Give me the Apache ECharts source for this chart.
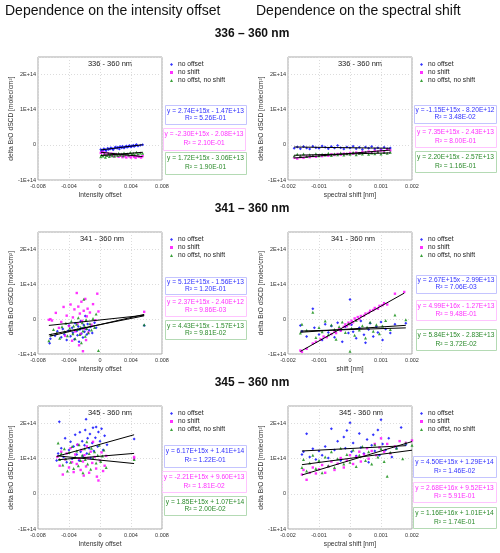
<!DOCTYPE html>
<html><head><meta charset="utf-8">
<script src="https://cdn.jsdelivr.net/npm/echarts@6/dist/echarts.min.js"></script>
<style>html,body{margin:0;padding:0;background:#fff}#c{width:500px;height:553px}</style>
</head><body><div id="c"></div>
<script>
// units used in the point arrays: x in 1e-3, y in 1e13 molec/cm2
const X_UNIT = 1e-3, Y_UNIT = 1e13;

const sectionTitles = ['Dependence on the intensity offset', 'Dependence on the spectral shift'];
const rangeHeadings = ['336 \u2013 360 nm', '341 \u2013 360 nm', '345 \u2013 360 nm'];
const panelTitles = ['336 - 360 nm', '336 - 360 nm', '341 - 360 nm', '341 - 360 nm', '345 - 360 nm', '345 - 360 nm'];
const xAxisNames = ['Intensity offset', 'spectral shift [nm]', 'Intensity offset', 'shift [nm]', 'Intensity offset', 'spectral shift [nm]'];
const yAxisName = 'delta BrO dSCD [molec/cm\u00b2]';
const seriesNames = ['no offset', 'no shift', 'no offst, no shift'];

// regression coefficients (slope, intercept, R2) per panel: [no offset, no shift, no offst no shift]
const slopes = [
  [2.74e15, -2.30e15, 1.72e15],
  [-1.15e15, 7.35e15, 2.20e15],
  [5.12e15, 2.37e15, 4.43e15],
  [2.67e15, 4.99e16, 5.84e15],
  [6.17e15, -2.21e15, 1.85e15],
  [4.50e15, 2.68e16, 1.16e16]
];
const intercepts = [
  [-1.47e13, -2.08e13, -3.06e13],
  [-8.20e12, -2.43e13, -2.57e13],
  [-1.56e13, -2.40e12, -1.57e13],
  [-2.99e13, -1.27e13, -2.83e13],
  [1.41e14, 9.60e13, 1.07e14],
  [1.29e14, 9.52e13, 1.01e14]
];
const rSquared = [
  [5.26e-1, 2.10e-1, 1.90e-1],
  [3.48e-2, 8.00e-1, 1.16e-1],
  [1.20e-1, 9.86e-3, 9.81e-2],
  [7.06e-3, 9.48e-1, 3.72e-2],
  [1.22e-1, 1.81e-2, 2.00e-2],
  [1.46e-2, 5.91e-1, 1.74e-1]
];

// ---- 336-360 nm, intensity offset
const int336_noOffset = [[0.1,-1.3],[0.2,-1.8],[0.4,-1.5],[0.5,-1.1],[0.7,-1.4],[0.8,-1.7],[1.0,-1.0],[1.1,-1.3],[1.3,-1.2],[1.4,-0.8],[1.6,-1.1],[1.7,-1.4],[1.9,-0.9],[2.0,-0.6],[2.2,-1.0],[2.3,-0.7],[2.5,-1.2],[2.6,-0.5],[2.8,-0.8],[2.9,-0.4],[3.1,-0.9],[3.2,-0.6],[3.4,-0.3],[3.5,-0.7],[3.7,-0.5],[3.8,-0.2],[4.0,-0.6],[4.1,-0.3],[4.3,-0.1],[4.4,-0.5],[4.6,-0.2],[4.7,0.1],[4.9,-0.3],[5.2,-0.1],[5.5,0.0]];
const int336_noShift = [[0.1,-2.3],[0.3,-2.0],[0.5,-2.6],[0.6,-2.2],[0.8,-2.9],[1.0,-2.4],[1.2,-2.7],[1.3,-3.1],[1.5,-2.5],[1.7,-2.9],[1.8,-3.3],[2.0,-2.6],[2.2,-3.0],[2.4,-3.4],[2.5,-2.7],[2.7,-3.1],[2.9,-3.5],[3.0,-2.8],[3.2,-3.2],[3.4,-3.6],[3.6,-2.9],[3.8,-3.3],[4.0,-3.6],[4.2,-3.0],[4.4,-3.4],[4.6,-3.7],[4.8,-3.1],[5.0,-3.4],[5.3,-3.6],[5.5,-3.2]];
const int336_none = [[0.1,-3.4],[0.2,-2.9],[0.4,-3.2],[0.6,-2.7],[0.7,-3.5],[0.9,-3.0],[1.1,-2.6],[1.2,-3.3],[1.4,-2.8],[1.6,-3.1],[1.8,-2.5],[1.9,-3.2],[2.1,-2.7],[2.3,-3.0],[2.4,-2.4],[2.6,-2.9],[2.8,-2.6],[3.0,-3.1],[3.1,-2.3],[3.3,-2.7],[3.5,-2.5],[3.7,-2.9],[3.9,-2.2],[4.1,-2.6],[4.3,-2.4],[4.5,-2.8],[4.7,-2.1],[4.9,-2.5],[5.2,-2.3],[5.5,-2.4]];
// ---- 336-360 nm, spectral shift
const sh336_noOffset = [[-1.8,-1.0],[-1.7,-0.6],[-1.6,-1.1],[-1.5,-0.5],[-1.4,-0.9],[-1.3,-1.2],[-1.2,-0.4],[-1.1,-0.8],[-1.0,-1.0],[-0.9,-0.3],[-0.8,-0.7],[-0.7,-1.1],[-0.6,-0.5],[-0.5,-0.9],[-0.4,-0.2],[-0.3,-0.8],[-0.2,-1.2],[-0.1,-0.6],[0.0,-0.9],[0.1,-0.4],[0.2,-1.1],[0.3,-0.7],[0.4,-1.3],[0.5,-0.6],[0.6,-1.0],[0.7,-0.5],[0.8,-1.2],[0.9,-0.8],[1.0,-1.3],[1.1,-0.7],[1.2,-1.1],[1.3,-0.9]];
const sh336_noShift = [[-1.8,-3.6],[-1.7,-3.9],[-1.6,-3.5],[-1.5,-3.7],[-1.4,-3.3],[-1.3,-3.5],[-1.2,-3.2],[-1.1,-3.4],[-1.0,-3.0],[-0.9,-3.2],[-0.8,-2.9],[-0.7,-3.1],[-0.6,-2.7],[-0.5,-2.9],[-0.4,-2.6],[-0.3,-2.8],[-0.2,-2.5],[-0.1,-2.6],[0.0,-2.3],[0.1,-2.5],[0.2,-2.2],[0.3,-2.4],[0.4,-2.0],[0.5,-2.2],[0.6,-1.9],[0.7,-2.1],[0.8,-1.7],[0.9,-1.9],[1.0,-1.6],[1.1,-1.8],[1.2,-1.4],[1.3,-1.6]];
const sh336_none = [[-1.8,-3.2],[-1.7,-2.7],[-1.6,-3.1],[-1.5,-2.6],[-1.4,-3.3],[-1.3,-2.8],[-1.2,-3.0],[-1.1,-2.5],[-1.0,-3.1],[-0.9,-2.7],[-0.8,-2.9],[-0.7,-2.4],[-0.6,-3.0],[-0.5,-2.6],[-0.4,-2.8],[-0.3,-2.3],[-0.2,-2.9],[-0.1,-2.5],[0.0,-2.7],[0.1,-2.2],[0.2,-2.8],[0.3,-2.4],[0.4,-2.6],[0.5,-2.1],[0.6,-2.7],[0.7,-2.3],[0.8,-2.5],[0.9,-2.0],[1.0,-2.6],[1.1,-2.2],[1.2,-2.4],[1.3,-2.1]];
// ---- 341-360 nm, intensity offset
const int341_noOffset = [[-6.5,-6.9],[-6.4,-5.6],[-5.8,-4.8],[-5.5,-3.5],[-5.0,-5.2],[-4.8,-2.8],[-4.6,-4.4],[-4.3,-6.0],[-4.1,-3.3],[-4.0,-1.8],[-3.8,-4.9],[-3.6,-2.5],[-3.5,-3.9],[-3.3,-5.8],[-3.2,-1.2],[-3.0,-3.4],[-2.9,-4.6],[-2.8,-2.1],[-2.7,-6.5],[-2.6,-3.0],[-2.5,-0.6],[-2.4,-4.2],[-2.3,-2.6],[-2.2,-5.3],[-2.1,-1.7],[-2.0,-3.6],[-1.9,0.9],[-1.8,-2.9],[-1.7,-4.4],[-1.6,-1.4],[-1.4,-3.2],[-1.2,-2.2],[-1.0,-4.0],[-0.7,-1.0],[-0.5,-2.5],[5.7,-1.8]];
const int341_noShift = [[-6.6,-0.2],[-6.4,0.0],[-6.2,-0.4],[-5.7,1.8],[-5.3,-2.5],[-5.0,-0.8],[-4.7,3.5],[-4.5,-4.8],[-4.3,1.0],[-4.0,-2.0],[-3.8,4.2],[-3.6,-6.2],[-3.5,0.5],[-3.3,2.8],[-3.2,-3.5],[-3.0,7.5],[-2.9,-1.3],[-2.8,3.6],[-2.7,-7.5],[-2.6,1.6],[-2.5,-4.2],[-2.4,5.0],[-2.3,-0.5],[-2.2,-9.2],[-2.1,2.4],[-2.0,-2.8],[-1.9,5.8],[-1.8,-6.0],[-1.7,0.8],[-1.6,3.0],[-1.5,-3.8],[-1.3,1.9],[-1.1,-1.6],[-0.9,4.3],[-0.6,-0.3],[-0.35,7.3],[-0.2,2.2],[5.7,2.1]];
const int341_none = [[-6.6,-6.2],[-6.3,-4.5],[-6.0,-3.0],[-5.6,-4.0],[-5.2,-5.5],[-4.9,-2.2],[-4.6,-3.6],[-4.4,-1.2],[-4.2,-4.8],[-3.9,-2.6],[-3.7,-0.6],[-3.5,-4.2],[-3.4,-2.0],[-3.2,-5.6],[-3.0,-1.5],[-2.9,-3.0],[-2.8,0.4],[-2.6,-4.4],[-2.5,-2.3],[-2.4,-6.8],[-2.3,-1.0],[-2.2,-3.4],[-2.1,5.7],[-2.0,-2.0],[-1.9,-4.9],[-1.8,-0.2],[-1.7,-2.7],[-1.5,-3.9],[-1.3,-1.3],[-1.1,-3.1],[-0.9,0.2],[-0.7,-2.4],[-0.5,1.5],[-0.2,-9.0],[5.7,-1.6]];
// ---- 341-360 nm, spectral shift
const sh341_noOffset = [[-1.6,-1.8],[-1.55,-3.5],[-1.4,-5.0],[-1.2,3.0],[-1.15,-2.5],[-1.0,-4.4],[-0.9,-6.0],[-0.8,-1.5],[-0.7,-3.8],[-0.6,-2.0],[-0.5,-5.2],[-0.4,-1.0],[-0.3,-3.2],[-0.25,-6.5],[-0.15,-2.2],[-0.05,-4.0],[0.0,5.6],[0.05,-1.6],[0.1,-3.6],[0.2,-5.5],[0.3,-2.5],[0.35,-0.5],[0.45,-4.5],[0.5,-6.8],[0.6,-3.0],[0.65,-1.2],[0.75,-5.0],[0.85,-2.2],[0.9,-3.8],[1.0,-0.8],[1.05,-6.0],[1.15,-2.8],[1.3,-4.0],[1.45,-1.5],[1.8,-1.2]];
const sh341_noShift = [[-1.6,-9.0],[-1.55,-9.4],[-1.4,-8.5],[-1.2,-7.0],[-1.1,-6.5],[-0.95,-5.8],[-0.85,-5.0],[-0.75,-5.2],[-0.6,-4.3],[-0.5,-3.5],[-0.45,-4.0],[-0.35,-2.8],[-0.3,-3.3],[-0.2,-2.2],[-0.15,-1.5],[-0.1,-2.0],[-0.05,-1.0],[0.0,-1.4],[0.05,-0.5],[0.1,-0.9],[0.15,0.2],[0.2,-0.3],[0.25,0.6],[0.3,0.0],[0.35,0.9],[0.45,1.0],[0.5,1.6],[0.6,1.8],[0.65,2.4],[0.75,2.6],[0.8,3.2],[0.9,3.0],[0.95,3.8],[1.05,4.0],[1.1,4.6],[1.2,4.2],[1.45,7.3],[1.75,7.8]];
const sh341_none = [[-1.6,-4.0],[-1.55,-1.5],[-1.4,-3.2],[-1.2,2.0],[-1.1,-5.3],[-1.0,-2.4],[-0.9,-3.6],[-0.8,-0.5],[-0.7,-4.5],[-0.6,-1.7],[-0.5,-3.0],[-0.45,-5.8],[-0.35,-2.2],[-0.25,-0.8],[-0.15,-3.8],[-0.05,-1.3],[0.0,-9.2],[0.05,-2.6],[0.15,-4.6],[0.2,-0.3],[0.3,-3.1],[0.4,-1.9],[0.5,-5.4],[0.55,-2.3],[0.65,-0.9],[0.75,-3.5],[0.85,-1.6],[0.95,-4.2],[1.05,-2.0],[1.15,-0.4],[1.3,-3.0],[1.45,1.2],[1.8,-0.2]];
// ---- 345-360 nm, intensity offset
const int345_noOffset = [[-5.6,9.5],[-5.4,11.5],[-5.25,20.5],[-5.0,13.0],[-4.7,10.5],[-4.5,15.8],[-4.3,9.0],[-4.0,12.5],[-3.8,14.8],[-3.6,10.0],[-3.4,13.5],[-3.2,16.8],[-3.0,11.2],[-2.9,14.0],[-2.7,9.5],[-2.6,17.5],[-2.5,12.0],[-2.3,15.0],[-2.2,10.8],[-2.0,13.8],[-1.9,18.2],[-1.8,21.2],[-1.7,11.5],[-1.6,15.8],[-1.4,13.0],[-1.3,17.0],[-1.2,10.2],[-1.0,14.5],[-0.9,18.8],[-0.8,12.2],[-0.6,16.0],[-0.5,19.0],[-0.3,13.5],[-0.2,17.6],[0.0,15.0],[0.2,18.5],[0.4,12.5],[0.6,16.5],[0.9,14.0],[4.4,15.6]];
const int345_noShift = [[-5.5,10.5],[-5.2,8.0],[-5.0,12.0],[-4.8,5.5],[-4.5,9.8],[-4.3,11.5],[-4.0,7.5],[-3.8,13.0],[-3.6,9.0],[-3.4,6.2],[-3.2,11.2],[-3.0,8.5],[-2.9,14.0],[-2.7,10.0],[-2.5,6.8],[-2.4,12.5],[-2.2,9.2],[-2.1,5.2],[-2.0,11.0],[-1.8,7.8],[-1.7,13.5],[-1.5,10.2],[-1.4,6.0],[-1.2,12.0],[-1.0,8.8],[-0.9,14.8],[-0.7,10.5],[-0.5,7.2],[-0.4,4.9],[-0.2,3.8],[0.0,9.5],[0.2,11.8],[0.4,6.5],[0.6,8.0],[0.8,10.8],[4.4,10.5],[4.4,10.0]];
const int345_none = [[-5.4,14.5],[-5.2,9.8],[-5.0,11.5],[-4.8,8.2],[-4.6,12.8],[-4.4,10.0],[-4.2,6.5],[-4.0,11.8],[-3.8,9.0],[-3.6,13.5],[-3.4,7.2],[-3.2,10.5],[-3.0,12.2],[-2.8,8.0],[-2.7,14.0],[-2.5,9.5],[-2.3,11.0],[-2.2,6.0],[-2.0,12.8],[-1.9,9.8],[-1.7,14.8],[-1.6,8.5],[-1.4,11.5],[-1.2,7.0],[-1.1,13.0],[-0.9,10.2],[-0.7,12.0],[-0.5,8.8],[-0.3,11.0],[-0.1,13.8],[0.1,9.2],[0.3,10.8],[0.5,12.5],[0.8,7.5],[4.4,9.8]];
// ---- 345-360 nm, spectral shift
const sh345_noOffset = [[-1.55,11.2],[-1.5,12.0],[-1.4,17.1],[-1.3,10.5],[-1.2,12.8],[-1.1,9.8],[-1.0,12.2],[-0.9,11.0],[-0.8,13.5],[-0.7,10.2],[-0.6,18.5],[-0.5,12.5],[-0.4,15.0],[-0.3,9.5],[-0.2,16.2],[-0.15,13.0],[-0.1,18.0],[0.0,20.2],[0.05,12.0],[0.1,14.5],[0.2,10.8],[0.3,17.2],[0.35,13.2],[0.45,11.5],[0.55,15.5],[0.6,9.0],[0.7,13.8],[0.75,16.8],[0.8,12.2],[0.9,18.2],[0.95,11.0],[1.0,21.1],[1.05,14.2],[1.15,12.5],[1.25,15.8],[1.35,10.5],[1.5,13.0],[1.65,18.9],[1.8,14.0]];
const sh345_noShift = [[-1.55,5.5],[-1.5,6.8],[-1.4,4.0],[-1.3,6.0],[-1.2,7.5],[-1.1,5.8],[-1.0,7.0],[-0.9,8.2],[-0.8,6.0],[-0.7,7.8],[-0.6,9.2],[-0.5,6.8],[-0.4,8.6],[-0.3,10.2],[-0.2,7.5],[-0.1,9.5],[0.0,11.0],[0.1,8.5],[0.2,10.5],[0.3,12.0],[0.35,9.2],[0.45,11.2],[0.55,13.0],[0.6,10.0],[0.7,12.2],[0.8,14.2],[0.85,11.0],[0.95,13.2],[1.0,15.8],[1.1,12.0],[1.2,14.2],[1.3,11.5],[1.45,13.5],[1.6,15.0],[1.8,14.5],[2.0,15.2]];
const sh345_none = [[-1.55,7.5],[-1.5,9.8],[-1.4,6.5],[-1.3,8.8],[-1.2,11.0],[-1.1,7.2],[-1.0,9.5],[-0.9,6.0],[-0.8,10.5],[-0.7,8.0],[-0.6,12.0],[-0.5,7.5],[-0.4,10.0],[-0.3,13.0],[-0.2,8.5],[-0.1,11.2],[0.0,9.0],[0.1,12.5],[0.2,7.8],[0.3,11.0],[0.4,13.5],[0.5,9.5],[0.6,12.0],[0.7,8.5],[0.8,14.0],[0.9,10.5],[1.0,12.8],[1.1,9.2],[1.2,5.0],[1.3,11.8],[1.5,13.0],[1.7,10.0],[1.8,14.5],[2.0,13.8]];

const panelPoints = [
  [int336_noOffset, int336_noShift, int336_none],
  [sh336_noOffset, sh336_noShift, sh336_none],
  [int341_noOffset, int341_noShift, int341_none],
  [sh341_noOffset, sh341_noShift, sh341_none],
  [int345_noOffset, int345_noShift, int345_none],
  [sh345_noOffset, sh345_noShift, sh345_none]
];

// ---------- styling / layout
const FONT = '"Liberation Sans", Arial, sans-serif';
const colors = ['#0000ff', '#ff00ff', '#0a8a0a'];
const textColors = ['#3030ff', '#ff30ff', '#2a8a2a'];
const boxColors = ['#c4c4ff', '#ffc4ff', '#b4dab4'];
const symbols = ['diamond', 'rect', 'triangle'];
const symSizes = [3.0, 2.4, 3.0];
const colLeft = [38, 288];
const rowTop = [57, 232, 406];
const rowH = [123, 122, 123];
const PW = 124;
const titlePos = [[110, 63.5], [360, 63.5], [102, 238.5], [353, 238.5], [110, 413], [361, 413]];
const boxes = [
  [[165,105,81,19],[163,128,82,22],[165,152,81,22]],
  [[414,105,82,18],[415,126,81,21],[415,151,81,21]],
  [[165,277,81,17],[165,296,81,20],[165,320,81,19]],
  [[416,275,80,18],[416,300,80,20],[416,329,80,21]],
  [[164,445,82,22],[162,471,84,21],[164,496,82,19]],
  [[413,456,83,21],[413,482,83,20],[413,507,83,21]]
];

function fmtE(v) {
  const s = Math.abs(v).toExponential(2);
  const [m, e] = s.split('e');
  const ex = parseInt(e, 10);
  return (v < 0 ? '-' : '') + m + 'E' + (ex < 0 ? '-' : '+') + String(Math.abs(ex)).padStart(2, '0');
}
function eqText(s, b) {
  return 'y = ' + fmtE(s) + 'x ' + (b < 0 ? '-' : '+') + ' ' + fmtE(Math.abs(b));
}

const grids = [], xAxes = [], yAxes = [], series = [], legends = [], graphics = [];

sectionTitles.forEach((t, i) => {
  graphics.push({type:'text', x: i === 0 ? 5 : 256, y: 11, silent:true,
    style:{text:t, fill:'#111', font:'14px ' + FONT, textAlign:'left', textVerticalAlign:'middle'}});
});
rangeHeadings.forEach((t, r) => {
  graphics.push({type:'text', x: 252, y: [34, 209, 383][r], silent:true,
    style:{text:t, fill:'#111', font:'bold 12px ' + FONT, textAlign:'center', textVerticalAlign:'middle'}});
});

for (let i = 0; i < 6; i++) {
  const col = i % 2, row = Math.floor(i / 2);
  const left = colLeft[col], top = rowTop[row], h = rowH[row];
  grids.push({left, top, width: PW, height: h, show: true, borderColor: '#a8a8a8', borderWidth: 1,
    backgroundColor: '#fff', containLabel: false, outerBoundsMode: 'none'});
  const xr = col === 0 ? [-0.008, 0.008, 0.004] : [-0.002, 0.002, 0.001];
  xAxes.push({type:'value', gridIndex:i, min:xr[0], max:xr[1], interval:xr[2],
    name: xAxisNames[i], nameLocation:'middle', nameGap:12,
    nameTextStyle:{fontSize:6.7, color:'#333', fontFamily:FONT},
    axisLine:{show:false}, axisTick:{show:false},
    axisLabel:{fontSize:5.5, color:'#333', margin:3, fontFamily:FONT,
      formatter: v => Math.abs(v) < 1e-12 ? '0' : v.toFixed(3)},
    splitLine:{show:true, lineStyle:{color:'#dcdcdc', type:[1,2], width:1}}});
  yAxes.push({type:'value', gridIndex:i, min:-1e14, max:2.5e14, interval:1e14,
    name: yAxisName, nameLocation:'middle', nameGap:23, nameRotate:90,
    nameTextStyle:{fontSize:6.7, color:'#333', fontFamily:FONT},
    axisLine:{show:false}, axisTick:{show:false},
    axisLabel:{fontSize:5.5, color:'#333', margin:2, fontFamily:FONT, showMaxLabel:false,
      formatter: v => Math.abs(v) < 1 ? '0' : Math.round(v / 1e14) + 'E+14'},
    splitLine:{show:true, lineStyle:{color:'#dcdcdc', type:[1,2], width:1}}});

  const pts = panelPoints[i];
  for (let k = 0; k < 3; k++) {
    series.push({name: seriesNames[k], type:'scatter', xAxisIndex:i, yAxisIndex:i,
      symbol: symbols[k], symbolSize: symSizes[k], itemStyle:{color: colors[k]}, z: 2 + k,
      data: pts[k].map(p => [p[0] * X_UNIT, p[1] * Y_UNIT])});
  }
  for (let k = 0; k < 3; k++) {
    const xs = pts[k].map(p => p[0] * X_UNIT);
    const x0 = Math.min(...xs), x1 = Math.max(...xs);
    const s = slopes[i][k], b = intercepts[i][k];
    series.push({name:'trend', type:'line', xAxisIndex:i, yAxisIndex:i, symbol:'none', silent:true, z:10,
      lineStyle:{color:'#000', width:1}, data:[[x0, s * x0 + b], [x1, s * x1 + b]]});
  }

  legends.push({data: seriesNames, orient:'vertical', left: left + PW + 8, top: top + 4,
    itemWidth:3, itemHeight:3, itemGap:1, padding:0, selectedMode:false,
    textStyle:{fontSize:6.7, color:'#222', fontFamily:FONT, lineHeight:7}});

  const [tx, ty] = titlePos[i];
  graphics.push({type:'text', x:tx, y:ty, silent:true,
    style:{text: panelTitles[i], fill:'#222', font:'7.5px ' + FONT, textAlign:'center', textVerticalAlign:'middle'}});

  for (let k = 0; k < 3; k++) {
    const [bx, by, bw, bh] = boxes[i][k];
    graphics.push({type:'rect', silent:true, shape:{x:bx + 0.5, y:by + 0.5, width:bw, height:bh},
      style:{fill:'#fff', stroke: boxColors[k], lineWidth:1}});
    graphics.push({type:'text', x: bx + bw / 2, y: by + bh * 0.3, silent:true,
      style:{text: eqText(slopes[i][k], intercepts[i][k]), fill: textColors[k], font:'6.6px ' + FONT,
        textAlign:'center', textVerticalAlign:'middle'}});
    graphics.push({type:'text', x: bx + bw / 2, y: by + bh * 0.7, silent:true,
      style:{text: 'R\u00b2 = ' + fmtE(rSquared[i][k]), fill: textColors[k], font:'6.6px ' + FONT,
        textAlign:'center', textVerticalAlign:'middle'}});
  }
}

const chart = echarts.init(document.getElementById('c'), null, {renderer:'canvas'});
chart.setOption({
  backgroundColor:'#fff',
  animation:false,
  grid: grids, xAxis: xAxes, yAxis: yAxes, series, legend: legends, graphic: graphics
});
</script>
</body></html>
